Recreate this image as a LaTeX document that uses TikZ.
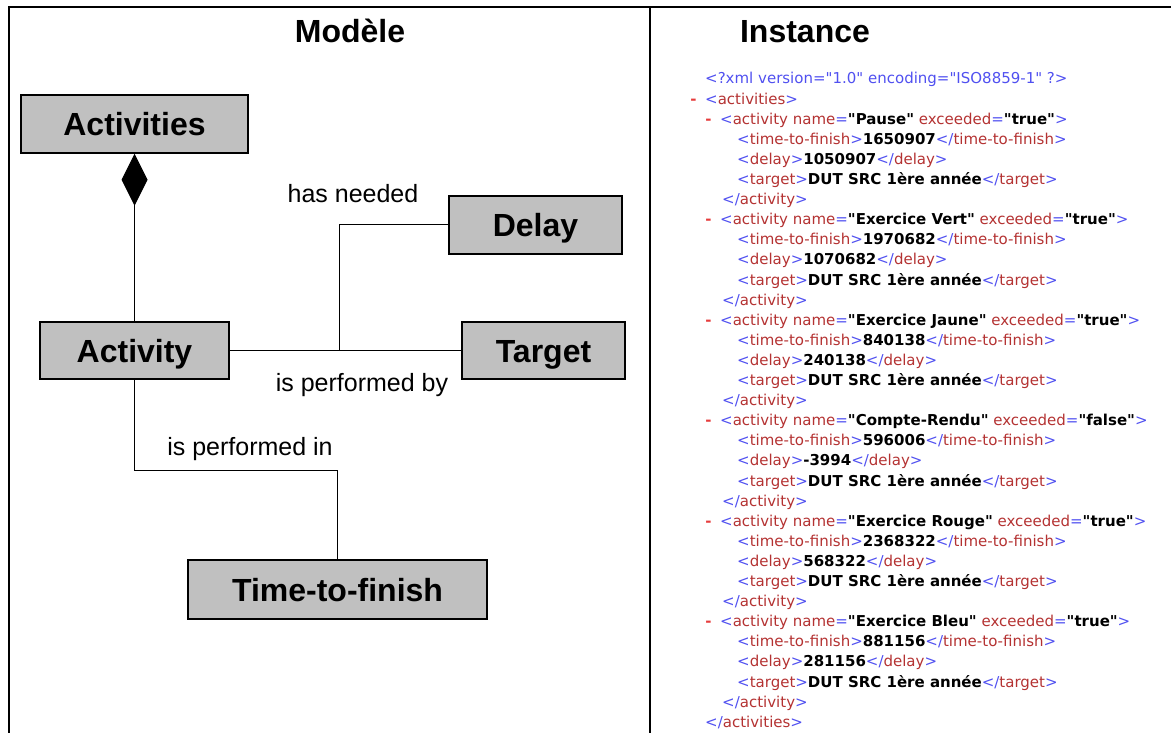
\documentclass[tikz,border=0pt]{standalone}
\usepackage{fontspec}
\setmainfont{Liberation Sans}
\newfontfamily\xmlfont{DejaVu Sans}
\usetikzlibrary{arrows.meta}
\definecolor{boxgray}{RGB}{192,192,192}
\definecolor{xblue}{RGB}{80,80,240}
\definecolor{xred}{RGB}{180,50,50}
\definecolor{xdash}{RGB}{230,60,60}
\newcommand{\mk}[1]{\textcolor{xblue}{#1}}
\newcommand{\tg}[1]{\textcolor{xred}{#1}}
\newcommand{\bx}[1]{\textbf{#1}}
\newcommand{\dsh}{\llap{\textcolor{xdash}{\bfseries -}\hspace{8.5pt}}}
\tikzset{
  umlbox/.style={draw, line width=1.5pt, fill=boxgray, inner sep=0pt,
    text height=23pt, text depth=0pt, font=\bfseries\fontsize{32}{38}\selectfont},
  header/.style={inner sep=0pt, anchor=base, font=\bfseries\fontsize{32}{38}\selectfont},
  lbl/.style={inner sep=0pt, anchor=base, font=\fontsize{25}{30}\selectfont},
  conn/.style={line width=1pt, black},
  frame/.style={line width=2.2pt, black},
  xmltext/.style={inner sep=0pt, anchor=base west, font=\xmlfont\fontsize{15}{18}\selectfont}
}
\newcommand{\xline}[3]{\node[xmltext] (l#1) at (#2,{84+20.1*(#1-1)}) {#3};}
\newcommand{\activ}[5]{%
  \xline{#1}{720}{\dsh\mk{<}\tg{activity name}\mk{=}\bx{"#2"} \tg{exceeded}\mk{=}\bx{"#3"}\mk{>}}
  \node[xmltext] (t#1) at (737,{84+20.1*(#1)}) {\mk{<}\tg{time-to-finish}\mk{>}\bx{#4}\mk{</}\tg{time-to-finish}\mk{>}};
  \node[xmltext] (d#1) at (737,{84+20.1*(#1+1)}) {\mk{<}\tg{delay}\mk{>}\bx{#5}\mk{</}\tg{delay}\mk{>}};
  \node[xmltext] (g#1) at (737,{84+20.1*(#1+2)}) {\mk{<}\tg{target}\mk{>}\bx{DUT SRC 1ère année}\mk{</}\tg{target}\mk{>}};
  \node[xmltext] (c#1) at (722,{84+20.1*(#1+3)}) {\mk{</}\tg{activity}\mk{>}};
}
\begin{document}
\begin{tikzpicture}[x=1pt,y=-1pt]
\useasboundingbox (0,0) rectangle (1171,733);
% frame
\draw[frame] (9,733) -- (9,7) -- (1171,7);
\draw[frame] (650,7) -- (650,733);
% headers
\node[header] (modele) at (350,43) {Modèle};
\node[header] (instance) at (805,43) {Instance};
% boxes
\node[umlbox, minimum width=227pt, minimum height=58pt] (Activities) at (134.5,124) {Activities};
\node[umlbox, minimum width=173pt, minimum height=58pt] (Delay) at (535.5,225) {Delay};
\node[umlbox, minimum width=189pt, minimum height=57pt] (Activity) at (134.5,350.5) {Activity};
\node[umlbox, minimum width=163pt, minimum height=57pt] (Target) at (543.5,350.5) {Target};
\node[umlbox, minimum width=299pt, minimum height=59pt] (Ttf) at (337.5,589.5) {Time-to-finish};
% connectors
\draw[conn, {Diamond[length=52pt,width=26pt]}-] (Activities.south) -- (Activity.north);
\draw[conn] (Activity.east) -- ++(110,0) |- (Delay.west);
\draw[conn] (Activity.east) -- (Target.west);
\draw[conn] (Activity.south) -- ++(0,91) -| (Ttf.north);
% labels
\node[lbl] (hn) at (353,203) {has needed};
\node[lbl] (pb) at (362,391) {is performed by};
\node[lbl] (pin) at (250,455) {is performed in};
% XML
\xline{1}{705}{\mk{<?xml version="1.0" encoding="ISO8859-1" ?>}}
\xline{2}{705}{\dsh\mk{<}\tg{activities}\mk{>}}
\activ{3}{Pause}{true}{1650907}{1050907}
\activ{8}{Exercice Vert}{true}{1970682}{1070682}
\activ{13}{Exercice Jaune}{true}{840138}{240138}
\activ{18}{Compte-Rendu}{false}{596006}{-3994}
\activ{23}{Exercice Rouge}{true}{2368322}{568322}
\activ{28}{Exercice Bleu}{true}{881156}{281156}
\xline{33}{705}{\mk{</}\tg{activities}\mk{>}}
\end{tikzpicture}
\end{document}
